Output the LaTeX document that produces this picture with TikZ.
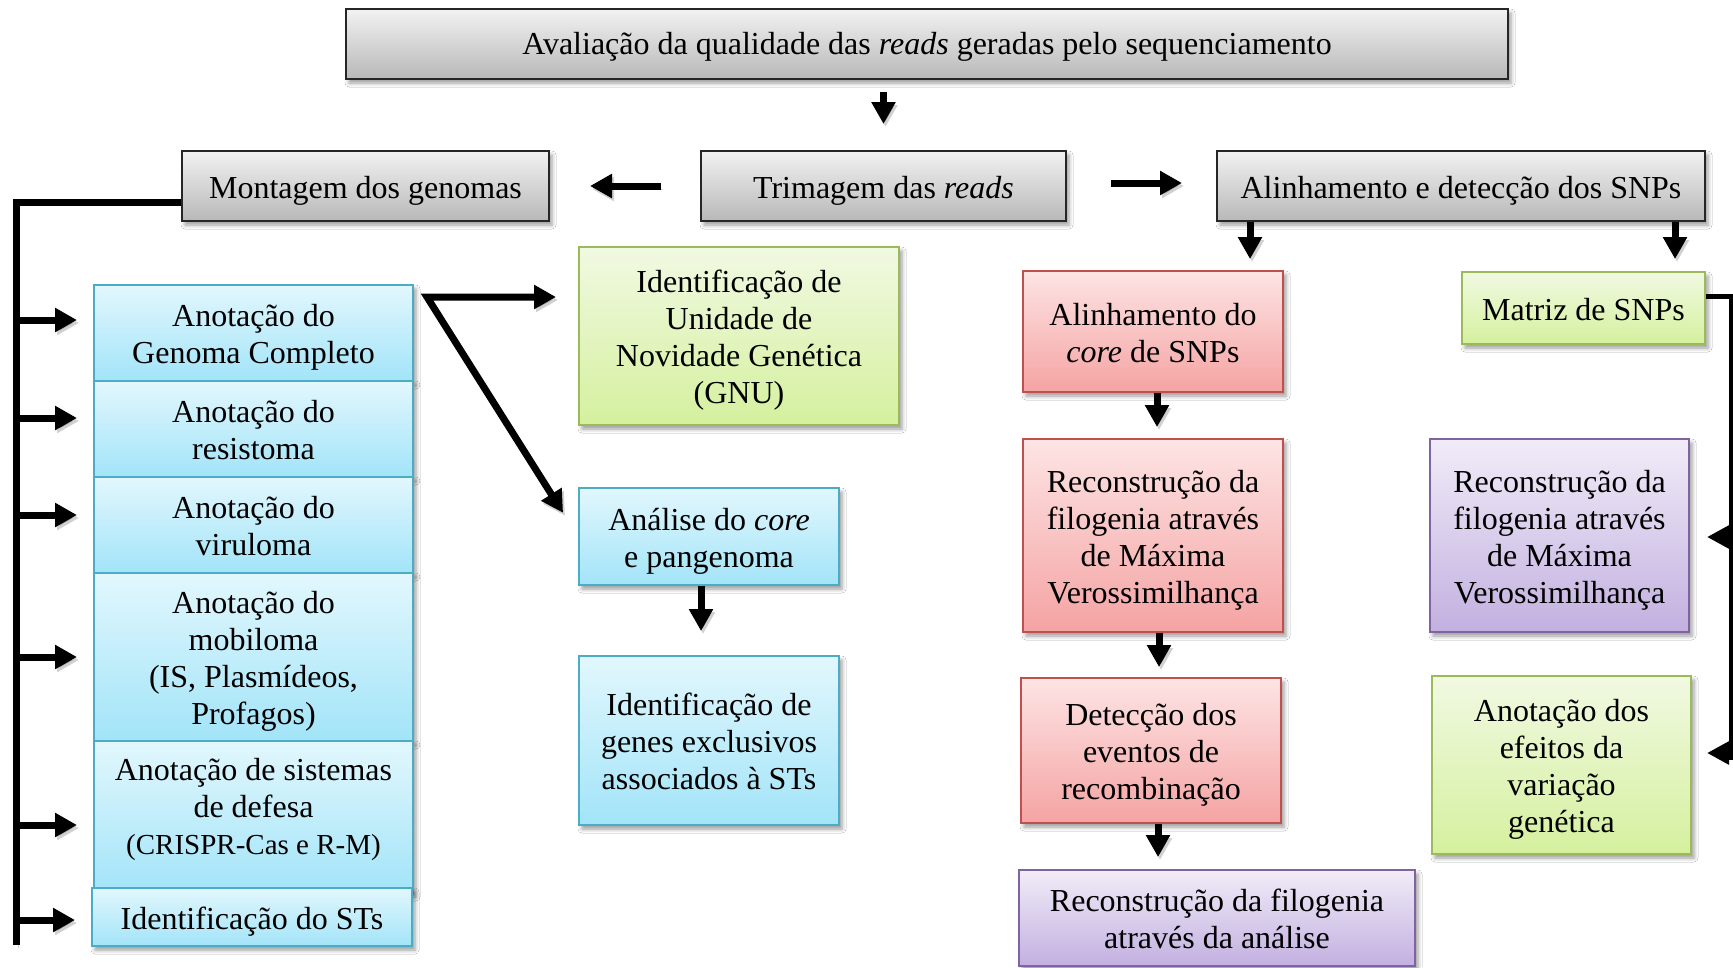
\documentclass[tikz,border=0pt]{standalone}
\usepackage{fontspec}
\setmainfont{Liberation Serif}
\usetikzlibrary{arrows.meta,shadows.blur,calc}
\definecolor{grayBd}{HTML}{262626}
\definecolor{grayTop}{HTML}{F2F2F2}
\definecolor{grayBot}{HTML}{B8B8B8}
\definecolor{blueBd}{HTML}{4BACC6}
\definecolor{blueTop}{HTML}{E2F7FD}
\definecolor{blueBot}{HTML}{A2E4F8}
\definecolor{greenBd}{HTML}{9BBB59}
\definecolor{greenTop}{HTML}{F1F9E2}
\definecolor{greenBot}{HTML}{D5F09E}
\definecolor{redBd}{HTML}{C0504D}
\definecolor{redTop}{HTML}{FDE4E4}
\definecolor{redBot}{HTML}{F5A3A3}
\definecolor{purpBd}{HTML}{8064A2}
\definecolor{purpTop}{HTML}{F1ECF8}
\definecolor{purpBot}{HTML}{C2B0E0}
\newcommand\mybox[8][-5pt]{\node[#3, minimum width={#6-#4}, minimum height={#7-#5}] (#2) at ({(#4+#6)/2},{(#5+#7)/2}) {\raisebox{#1}[\height][\depth]{\begin{tabular}{@{}c@{}}#8\end{tabular}}};}
\tikzset{
  box/.style={draw, line width=2pt, rectangle, inner sep=0pt, align=center,
    font=\fontsize{32}{37}\selectfont,
    blur shadow={shadow xshift=3pt, shadow yshift=-4pt, shadow blur radius=4pt, shadow opacity=40}},
  graybox/.style={box, draw=grayBd, top color=grayTop, bottom color=grayBot},
  bluebox/.style={box, draw=blueBd, top color=blueTop, bottom color=blueBot},
  greenbox/.style={box, draw=greenBd, top color=greenTop, bottom color=greenBot},
  redbox/.style={box, draw=redBd, top color=redTop, bottom color=redBot},
  purpbox/.style={box, draw=purpBd, top color=purpTop, bottom color=purpBot},
  ashadow/.style={preaction={draw=black, opacity=0.18, transform canvas={xshift=2pt,yshift=-3pt}}},
  barrow/.style={ashadow, line width=7pt, line join=miter, -{Triangle[length=22pt,width=23pt]}},
  barrowtwo/.style={ashadow, line width=7pt, line join=miter, {Triangle[length=22pt,width=23pt]}-{Triangle[length=22pt,width=23pt]}},
  bline/.style={ashadow, line width=7pt, line join=miter},
  rline/.style={line width=5pt, line join=miter},
  rarrow/.style={line width=6pt, -{Triangle[length=22pt,width=22pt]}},
}
\begin{document}
\begin{tikzpicture}[x=1pt,y=-1pt]
\fill[white] (0,0) rectangle (1733,967);
\useasboundingbox (0,0) rectangle (1733,967);

% top row
\mybox[-3pt]{top}{graybox}{346}{9}{1508}{79}{Avaliação da qualidade das \textit{reads} geradas pelo sequenciamento}
\mybox{mont}{graybox}{182}{151}{549}{221}{Montagem dos genomas}
\mybox{trim}{graybox}{701}{151}{1066}{221}{Trimagem das \textit{reads}}
\mybox{alin}{graybox}{1217}{151}{1705}{221}{Alinhamento e detecção dos SNPs}

% left stack
\mybox{gc}{bluebox}{94}{285}{413}{381}{Anotação do\\Genoma Completo}
\mybox{res}{bluebox}{94}{381}{413}{477}{Anotação do\\resistoma}
\mybox{vir}{bluebox}{94}{477}{413}{573}{Anotação do\\viruloma}
\mybox{mob}{bluebox}{94}{573}{413}{741}{Anotação do\\mobiloma\\(IS, Plasmídeos,\\Profagos)}
\mybox[7pt]{def}{bluebox}{94}{741}{413}{893}{Anotação de sistemas\\de defesa\\{\fontsize{29}{37}\selectfont (CRISPR-Cas e R-M)}}
\mybox{sts}{bluebox}{92}{888}{412}{946}{Identificação do STs}

% middle column
\mybox{gnu}{greenbox}{579}{247}{899}{425}{Identificação de\\Unidade de\\Novidade Genética\\(GNU)}
\mybox{pan}{bluebox}{579}{488}{839}{585}{Análise do \textit{core}\\e pangenoma}
\mybox{genes}{bluebox}{579}{656}{839}{825}{Identificação de\\genes exclusivos\\associados à STs}

% red column
\mybox{core}{redbox}{1023}{271}{1283}{392}{Alinhamento do\\\textit{core} de SNPs}
\mybox{mlone}{redbox}{1023}{439}{1283}{632}{Reconstrução da\\filogenia através\\de Máxima\\Verossimilhança}
\mybox{det}{redbox}{1021}{678}{1281}{823}{Detecção dos\\eventos de\\recombinação}
\mybox{filo}{purpbox}{1019}{870}{1415}{966}{Reconstrução da filogenia\\através da análise}

% right column
\mybox{matriz}{greenbox}{1462}{272}{1705}{344}{Matriz de SNPs}
\mybox{mltwo}{purpbox}{1430}{439}{1689}{632}{Reconstrução da\\filogenia através\\de Máxima\\Verossimilhança}
\mybox{efe}{greenbox}{1432}{676}{1691}{854}{Anotação dos\\efeitos da\\variação\\genética}

% top connectors
\draw[barrow, shorten <=12pt, shorten >=26pt] (top.south -| trim.north) -- (trim.north);
\draw[barrow, shorten <=39pt, shorten >=40pt] (trim.west) -- (mont.east);
\draw[barrow, shorten <=44pt, shorten >=34pt] ([yshift=3pt]trim.east) -- ([yshift=3pt]alin.west);

% left bracket
\coordinate (bb) at (16,945);
\draw[bline] ([yshift=-16pt]mont.west) -| (bb);
\foreach \n/\yy in {gc/320, res/418, vir/515, mob/657, def/825, sts/920}{
  \coordinate (b\n) at (16,\yy);
  \draw[barrow, shorten >=16pt] (b\n) -- (b\n -| \n.west);
}

% split from genome
\coordinate (sp) at (427,297);
\draw[barrowtwo, shorten <=22pt, shorten >=28pt] (sp -| gnu.west) -- (sp) -- (pan.west);
\draw[barrow, shorten >=24pt] ([xshift=-8pt]pan.south) -- ([xshift=-8pt]pan.south |- genes.north);

% alignment column
\draw[barrow, shorten >=11pt] ([xshift=-211pt]alin.south) -- ([xshift=-211pt]alin.south |- core.north);
\draw[barrow, shorten >=12pt] ([xshift=214pt]alin.south) -- ([xshift=214pt]alin.south |- matriz.north);
\draw[barrow, shorten >=11pt] ([xshift=4pt]core.south) -- ([xshift=4pt]core.south |- mlone.north);
\draw[barrow, shorten >=10pt] ([xshift=6pt]mlone.south) -- ([xshift=6pt]mlone.south |- det.north);
\draw[barrow, shorten >=12pt] ([xshift=7pt]det.south) -- ([xshift=7pt]det.south |- filo.north);

% right bracket
\coordinate (rt) at (1731,296);
\coordinate (rb) at (1731,760);
\draw[rline] ([yshift=12pt]matriz.east) -- (rt) -- (rb);
\coordinate (ra) at (1734,537);
\coordinate (rc) at (1734,753);
\draw[rarrow, shorten >=17pt] (ra) -- (ra -| mltwo.east);
\draw[rarrow, shorten >=15pt] (rc) -- (rc -| efe.east);
\end{tikzpicture}
\end{document}
